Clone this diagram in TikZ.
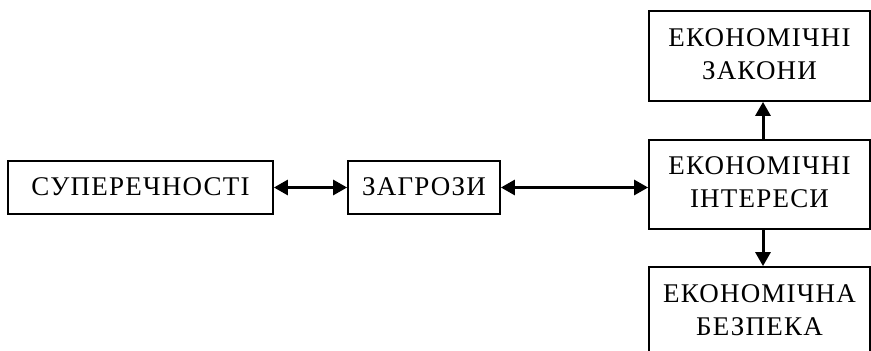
\documentclass[tikz,border=0pt]{standalone}
\usepackage{fontspec}
\setmainfont{Liberation Serif}[LetterSpace=4.5]
\usetikzlibrary{arrows.meta}
\newcommand{\twolines}[3]{\raisebox{#1}{\begin{tabular}{@{}c@{}}#2\\#3\end{tabular}}}
\begin{document}
\begin{tikzpicture}[x=1pt,y=-1pt,
  box/.style={draw=black,line width=1.8pt,rectangle,inner sep=0pt,
    font=\fontsize{27}{33}\selectfont,align=center},
  link/.style={line width=3pt,-{Triangle[length=14pt,width=15pt]}},
  biglink/.style={line width=3pt,{Triangle[length=14pt,width=15pt]}-{Triangle[length=14pt,width=15pt]}}]
\useasboundingbox (0,0) rectangle (871,351);
% left chain
\node[box,minimum width=265pt,minimum height=53pt] (sup) at (140.5,187.5) {\raisebox{2pt}{СУПЕРЕЧНОСТІ}};
\node[box,minimum width=152pt,minimum height=53pt] (zag) at (424,187.5) {\raisebox{2pt}{ЗАГРОЗИ}};
% right column
\node[box,minimum width=221pt,minimum height=90pt] (zak) at (759.5,56) {\twolines{3pt}{ЕКОНОМІЧНІ}{ЗАКОНИ}};
\node[box,minimum width=221pt,minimum height=89pt] (int) at (759.5,184.5) {\twolines{4pt}{ЕКОНОМІЧНІ}{ІНТЕРЕСИ}};
\node[box,minimum width=221pt,minimum height=90pt] (bez) at (759.5,312) {\twolines{7pt}{ЕКОНОМІЧНА}{БЕЗПЕКА}};
% connectors
\draw[biglink] (sup.east) -- (zag.west);
\draw[biglink] (zag.east) -- (zag.east -| int.west);
\draw[link] (int.north -| 763,0) -- (zak.south -| 763,0);
\draw[link] (int.south -| 763,0) -- (bez.north -| 763,0);
\end{tikzpicture}
\end{document}
